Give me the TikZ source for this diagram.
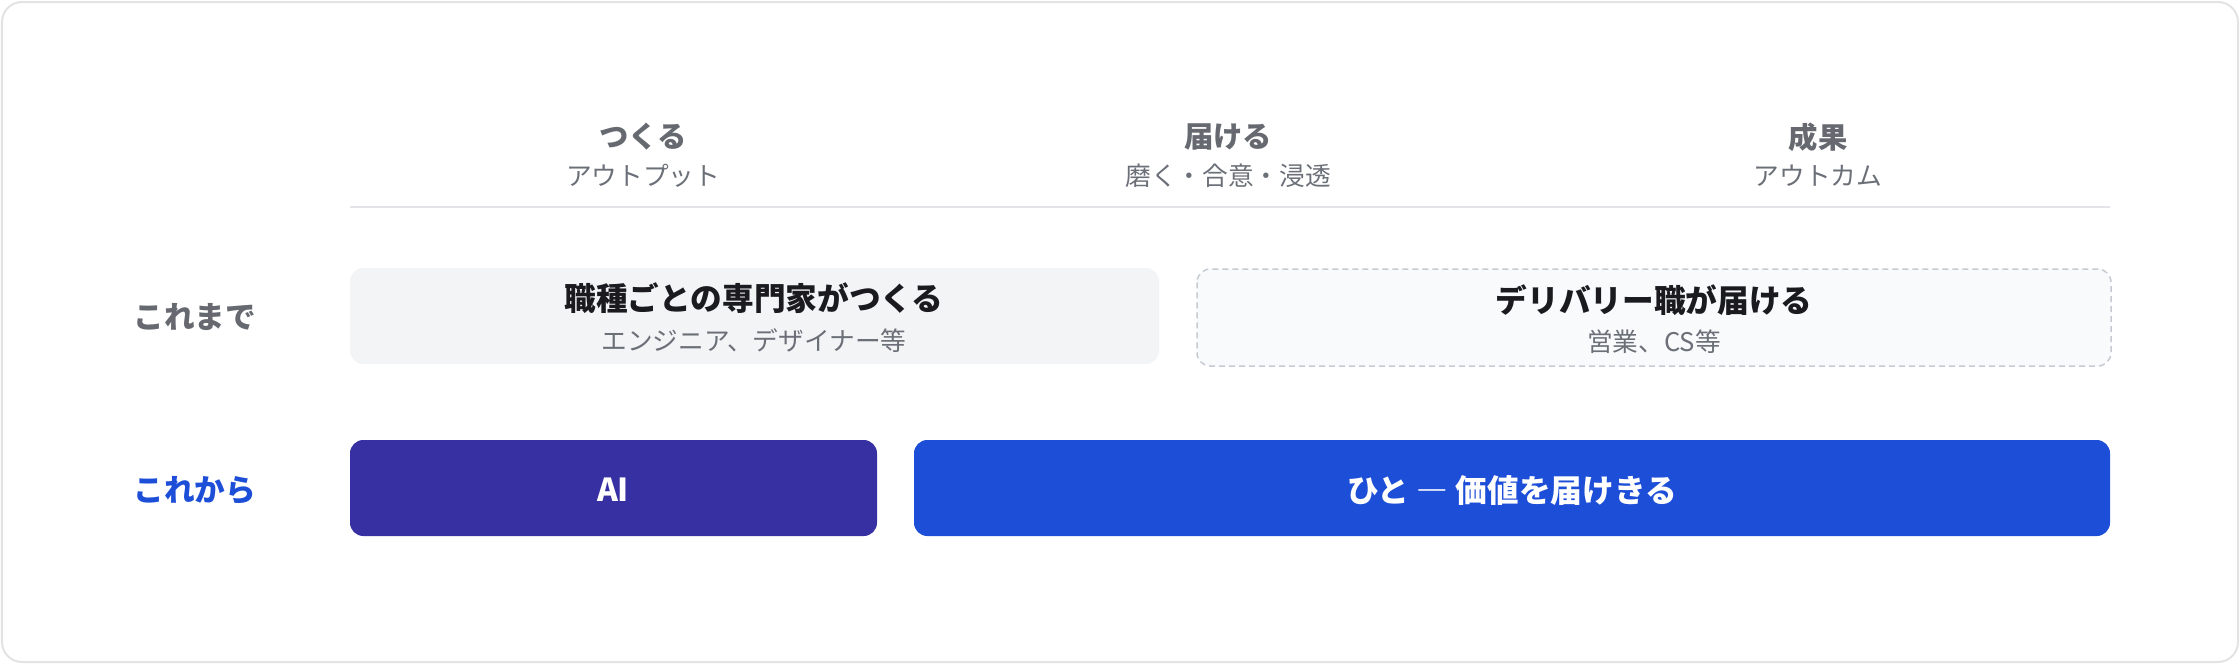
\documentclass[tikz,border=0pt]{standalone}
\usepackage{fontspec}
\setmainfont{Noto Sans CJK JP}
\definecolor{framegray}{HTML}{E3E3E3}
\definecolor{rulegray}{HTML}{E2E4E8}
\definecolor{headgray}{HTML}{666A70}
\definecolor{subgray}{HTML}{6B7078}
\definecolor{titleink}{HTML}{1A1A1F}
\definecolor{boxgray}{HTML}{F3F4F6}
\definecolor{boxpale}{HTML}{F8FAFC}
\definecolor{dashgray}{HTML}{C6CAD2}
\definecolor{aiindigo}{HTML}{3730A3}
\definecolor{humanblue}{HTML}{1D4ED8}

\begin{document}
\begin{tikzpicture}
  [x=0.3pt,y=-0.3pt,every node/.style={inner sep=0pt,anchor=center},
   colhead/.style={font=\bfseries\fontsize{8.8}{10}\selectfont,text=headgray},
   colsub/.style={font=\fontsize{7.7}{9}\selectfont,text=subgray},
   rowlabel/.style={font=\bfseries\fontsize{9.2}{11}\selectfont},
   boxtitle/.style={font=\bfseries\fontsize{9.5}{11}\selectfont,text=titleink},
   boxsub/.style={font=\fontsize{7.7}{9}\selectfont,text=subgray},
   filltext/.style={font=\bfseries\fontsize{9.5}{11}\selectfont,text=white}]
  \useasboundingbox (0,0) rectangle (2240,664);
  \draw[framegray,line width=0.6pt,rounded corners=6pt] (2,2) rectangle (2238,662);

  % column heads
  \foreach \name/\x/\main/\sub in {make/643/つくる/アウトプット,
      deliver/1228/届ける/磨く・合意・浸透,outcome/1818/成果/アウトカム} {
    \node[colhead] (\name) at (\x,137) {\main};
    \node[colsub] (\name-sub) at (\x,176) {\sub};
  }
  \draw[rulegray,line width=0.6pt] (350,207) -- (2110,207);

  % row: これまで
  \node[rowlabel,text=headgray] (before) at (195,317) {これまで};
  \fill[boxgray,rounded corners=4pt] (350,268) rectangle (1159,364);
  \node[boxtitle] (experts) at (754,298) {職種ごとの専門家がつくる};
  \node[boxsub] (experts-sub) at (754,341) {エンジニア、デザイナー等};
  \draw[dashgray,fill=boxpale,line width=0.45pt,dash pattern=on 1.8pt off 1.2pt,
    rounded corners=4pt] (1197,269) rectangle (2111,366);
  \node[boxtitle] (delivery) at (1654,300) {デリバリー職が届ける};
  \node[boxsub] (delivery-sub) at (1654,342) {営業、CS等};

  % row: これから
  \node[rowlabel,text=humanblue] (after) at (195,490) {これから};
  \fill[aiindigo,rounded corners=4pt] (350,440) rectangle (877,536);
  \node[filltext] (ai) at (613,490) {AI};
  \fill[humanblue,rounded corners=4pt] (914,440) rectangle (2110,536);
  \node[filltext] (human) at (1512,490) {ひと {\addfontfeature{CharacterWidth=Full}—} 価値を届けきる};
\end{tikzpicture}
\end{document}
